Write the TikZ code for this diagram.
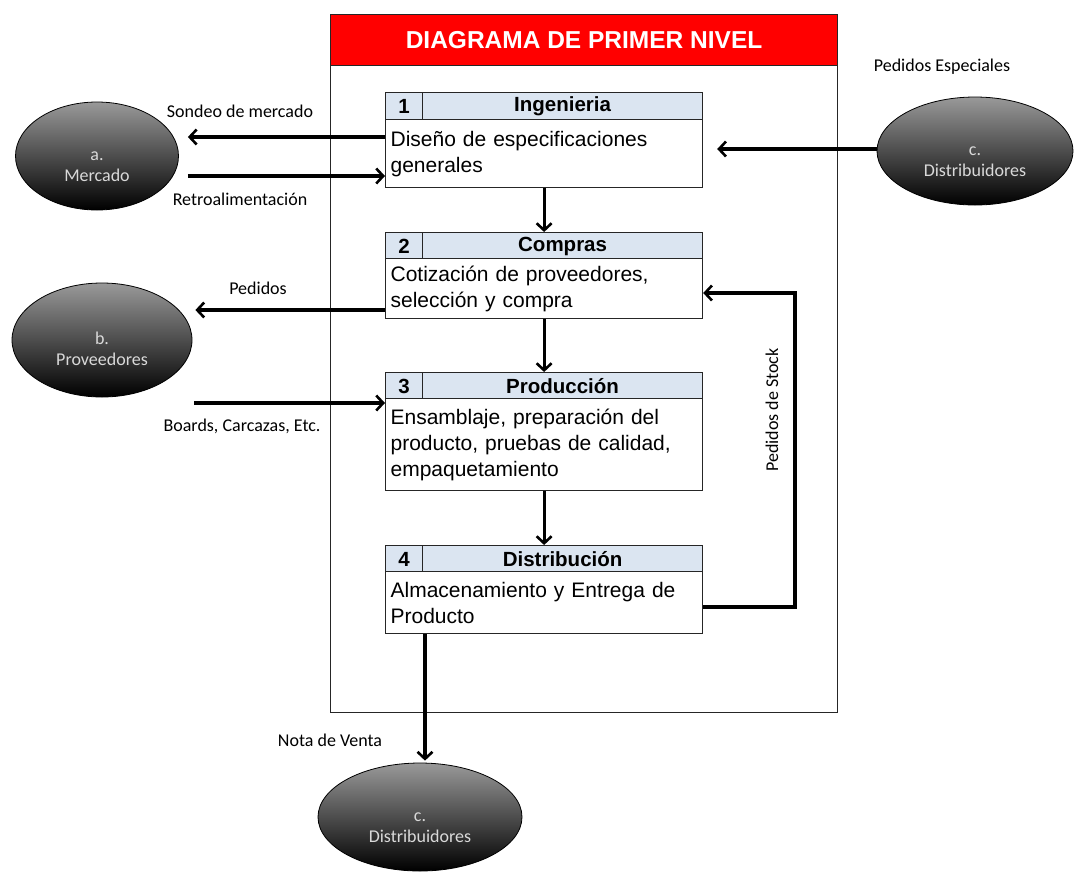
\documentclass[tikz,border=0pt]{standalone}
\usepackage{fontspec}
\setmainfont{Liberation Sans}
\newfontfamily\carl{Carlito}
\usetikzlibrary{arrows.meta,shapes.geometric,calc}
\definecolor{headblue}{HTML}{DBE5F1}
\definecolor{titlered}{HTML}{FF0000}
\begin{document}
\begin{tikzpicture}[x=1pt,y=-1pt,
  ell/.style={ellipse, draw=black, line width=0.8pt, top color=black!40, bottom color=black, text=black!15,
    font=\carl\fontsize{18}{21}\selectfont, align=center, inner sep=0pt},
  hnum/.style={draw=black!85, line width=1.2pt, fill=headblue, minimum width=37pt, minimum height=27pt,
    anchor=north west, font=\bfseries\fontsize{20.5}{22}\selectfont, inner sep=0pt},
  htitle/.style={draw=black!85, line width=1.2pt, fill=headblue, minimum width=280pt, minimum height=27pt,
    anchor=north west, font=\bfseries\fontsize{20.5}{22}\selectfont, inner sep=0pt},
  body/.style={draw=black!85, line width=1.2pt, fill=white, minimum width=317pt, text width=307pt,
    inner xsep=5pt, inner ysep=0pt, align=left, anchor=north west, font=\fontsize{21}{26}\selectfont},
  lab/.style={font=\carl\fontsize{18}{21}\selectfont, inner sep=0pt},
  arr/.style={line width=3.1pt, -{Straight Barb[length=7pt,width=15pt,line width=2.6pt]}}
]
\useasboundingbox (0,0) rectangle (1083,871);
% main frame
\node[draw=black!85, line width=1.2pt, minimum width=507pt, minimum height=698pt, anchor=north west, inner sep=0pt] (frame) at (330,14) {};
\node[draw=black!85, line width=1.2pt, fill=titlered, minimum width=507pt, minimum height=51pt, anchor=north west, inner sep=0pt,
  text=white, font=\bfseries\fontsize{24.5}{26}\selectfont] (title) at (330,14) {DIAGRAMA DE PRIMER NIVEL};
% box 1
\node[hnum] (n1) at (385,92) {1};
\node[htitle] (t1) at (422,92) {Ingenieria};
\node[body, minimum height=68pt] (b1) at (385,119) {Diseño de especificaciones\\generales};
% box 2
\node[hnum] (n2) at (385,232) {2};
\node[htitle] (t2) at (422,232) {Compras};
\node[body, minimum height=60pt] (b2) at (385,258) {Cotización de proveedores,\\selección y compra};
% box 3
\node[hnum] (n3) at (385,372) {3};
\node[htitle] (t3) at (422,372) {Producción};
\node[body, minimum height=92pt] (b3) at (385,398) {Ensamblaje, preparación del\\producto, pruebas de calidad,\\empaquetamiento};
% box 4
\node[hnum] (n4) at (385,545) {4};
\node[htitle] (t4) at (422,545) {Distribución};
\node[body, minimum height=62pt] (b4) at (385,571) {Almacenamiento y Entrega de\\Producto};
% ellipses
\node[ell, minimum width=163pt, minimum height=108pt] (merc) at (97,156) {\rule{0pt}{30pt}a.\\Mercado};
\node[ell, minimum width=180pt, minimum height=114pt] (prov) at (102,340) {\rule{0pt}{30pt}b.\\Proveedores};
\node[ell, minimum width=196pt, minimum height=108pt] (distR) at (975,151) {\rule{0pt}{30pt}c.\\Distribuidores};
\node[ell, minimum width=204pt, minimum height=108pt] (distB) at (420,817) {\rule{0pt}{30pt}c.\\Distribuidores};
% labels
\node[lab] (l1) at (240,111) {Sondeo de mercado};
\node[lab] (l2) at (240,199) {Retroalimentación};
\node[lab] (l3) at (258,288) {Pedidos};
\node[lab] (l4) at (242,426) {Boards, Carcazas, Etc.};
\node[lab] (l5) at (942,67) {Pedidos Especiales};
\node[lab] (l6) at (330,740) {Nota de Venta};
\node[lab, rotate=90] (l7) at (772,410) {Pedidos de Stock};
% connectors
\draw[arr, shorten >=9pt] (b1.west |- 0,137) -- (merc.east |- 0,137);
\draw[arr, shorten <=9pt] (merc.east |- 0,176) -- (b1.west |- 0,176);
\draw[arr, shorten >=14pt] (distR.west |- 0,149) -- (b1.east |- 0,149);
\draw[arr] (b1.south) -- (t2.north -| b1.south);
\draw[arr] (b2.south) -- (t3.north -| b2.south);
\draw[arr] (b3.south) -- (t4.north -| b3.south);
\draw[arr, shorten >=3pt] (b2.west |- 0,310) -- (prov.east |- 0,310);
\draw[arr, shorten <=2pt] (prov.east |- 0,403) -- (b3.west |- 0,403);
\draw[arr] (b4.east |- 0,607) -- (795,607) -- (795,293) -- (b2.east |- 0,293);
\draw[arr, shorten >=2pt] (b4.south -| 425,0) -- (distB.north -| 425,0);
\end{tikzpicture}
\end{document}
